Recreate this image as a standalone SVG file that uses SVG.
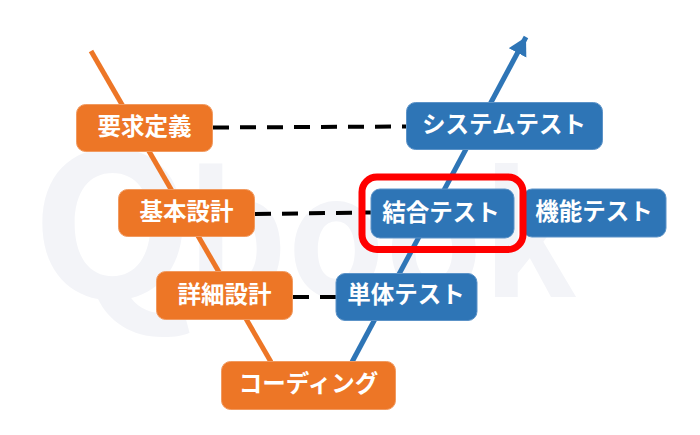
<svg xmlns="http://www.w3.org/2000/svg" width="700" height="435" viewBox="0 0 700 435">
<style>
.t{font-family:"Noto Sans CJK JP","Noto Sans",sans-serif;font-weight:700;font-size:23.500px;fill:#fff;text-anchor:middle}
.w{font-family:"Noto Sans CJK JP","Noto Sans",sans-serif;font-weight:700;fill:#f3f4f8}
.o{fill:#ed7626;stroke:#f19a60;stroke-width:1}
.b{fill:#2e75b6;stroke:#5c93c8;stroke-width:1}
.d{stroke:#000;stroke-width:4;stroke-dasharray:16 11;fill:none}
</style>
<defs><marker id="a" markerUnits="userSpaceOnUse" markerWidth="22" markerHeight="22" refX="18" refY="10" orient="auto"><path d="M0 0L18 10L0 20Z" fill="#2e75b6"/></marker></defs>
<rect width="700" height="435" fill="#fff"/>
<text class="w" x="31" y="297" font-size="197" textLength="163" lengthAdjust="spacingAndGlyphs">Q</text>
<text class="w" x="187" y="297" font-size="168" textLength="390" lengthAdjust="spacingAndGlyphs">book</text>
<g id="connectors">
<path d="M91 51L271 362" stroke="#ed7626" stroke-width="5" fill="none"/>
<path d="M352 362L526 37" stroke="#2e75b6" stroke-width="5" fill="none" marker-end="url(#a)"/>
<path class="d" d="M213 127.500L406 126.500"/>
<path class="d" d="M255 214L371 212.500"/>
<path class="d" d="M293 297L336 297"/>
</g>
<g id="n1"><rect class="o" x="76.500" y="104.500" width="136" height="47" rx="9"/><text class="t" x="144.500" y="135">要求定義</text></g>
<g id="n2"><rect class="o" x="118.500" y="189.500" width="136" height="47" rx="9"/><text class="t" x="186.500" y="220">基本設計</text></g>
<g id="n3"><rect class="o" x="156.500" y="271.500" width="136" height="48" rx="9"/><text class="t" x="224.500" y="303">詳細設計</text></g>
<g id="n4"><rect class="o" x="221.500" y="361.500" width="174" height="48" rx="9"/><text class="t" x="308.500" y="392">コーディング</text></g>
<g id="n5"><rect class="b" x="406.500" y="102.500" width="196" height="47" rx="9"/><text class="t" x="504" y="133">システムテスト</text></g>
<g id="n6"><rect class="b" x="371" y="189" width="143" height="49" rx="9"/><text class="t" x="441" y="221">結合テスト</text></g>
<g id="n7"><rect class="b" x="523" y="189" width="143" height="48" rx="9"/><text class="t" x="594" y="220">機能テスト</text></g>
<g id="n8"><rect class="b" x="336" y="273.500" width="141" height="47" rx="9"/><text class="t" x="406" y="303">単体テスト</text></g>
<rect id="highlight" x="362" y="177" width="161" height="72.500" rx="15" fill="none" stroke="#f00" stroke-width="7"/>
</svg>
